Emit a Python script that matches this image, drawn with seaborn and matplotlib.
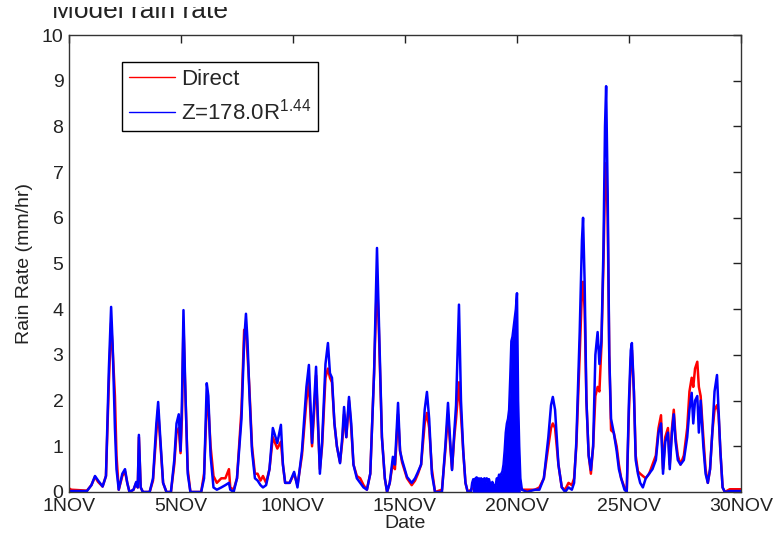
import matplotlib
matplotlib.use("Agg")
import numpy as np
import pandas as pd
import matplotlib.pyplot as plt
from matplotlib.patches import Rectangle
import seaborn as sns

# days since 1 Nov (axis runs 0..30)
day = [
    0.00, 0.10, 0.80, 1.00, 1.16, 1.30, 1.50, 1.65, 1.78, 1.88, 1.95, 2.05, 2.12, 2.22,
    2.38, 2.50, 2.60, 2.70, 2.88, 3.00, 3.07, 3.12, 3.20, 3.30, 3.60, 3.75, 3.90, 3.98,
    4.06, 4.20, 4.35, 4.55, 4.70, 4.80, 4.90, 4.98, 5.04, 5.11, 5.18, 5.30, 5.42, 5.90,
    6.03, 6.15, 6.22, 6.32, 6.45, 6.60, 6.80, 6.98, 7.14, 7.20, 7.35, 7.50, 7.70, 7.82,
    7.90, 7.97, 8.05, 8.17, 8.30, 8.42, 8.55, 8.66, 8.80, 8.95, 9.10, 9.30, 9.46, 9.55,
    9.65, 9.85, 10.05, 10.20, 10.40, 10.60, 10.71, 10.85, 10.95, 11.03, 11.12, 11.20,
    11.30, 11.45, 11.56, 11.65, 11.74, 11.85, 11.96, 12.10, 12.20, 12.28, 12.38, 12.50,
    12.60, 12.70, 12.85, 13.00, 13.15, 13.30, 13.45, 13.62, 13.75, 13.83, 13.97, 14.10,
    14.20, 14.32, 14.46, 14.55, 14.69, 14.78, 14.87, 15.09, 15.30, 15.45, 15.58, 15.72,
    15.88, 15.98, 16.08, 16.20, 16.34, 16.65, 16.80, 16.92, 17.02, 17.10, 17.20, 17.28,
    17.41, 17.50, 17.60, 17.70, 17.80, 17.95,
    # noisy stretch 18-20 Nov (upper envelope of the blue trace)
    18.00, 18.05, 18.10, 18.15, 18.20, 18.25, 18.30, 18.35, 18.40, 18.45, 18.50, 18.55,
    18.60, 18.65, 18.70, 18.75, 18.80, 18.85, 18.90, 18.95, 19.00, 19.05, 19.10, 19.15,
    19.20, 19.25, 19.30, 19.35, 19.40, 19.45, 19.50, 19.55, 19.60, 19.65, 19.70, 19.75,
    19.80, 19.85, 19.90, 19.95, 20.00, 20.05, 20.10, 20.15,
    20.22, 20.45, 20.80, 21.00, 21.20, 21.40, 21.52, 21.60, 21.70, 21.85, 22.00, 22.15,
    22.30, 22.45, 22.55, 22.65, 22.80, 22.90, 22.95, 23.02, 23.10, 23.20, 23.30, 23.40,
    23.50, 23.60, 23.68, 23.77, 23.86, 23.93, 23.98, 24.05, 24.12, 24.20, 24.32, 24.45,
    24.55, 24.65, 24.80, 24.90, 25.00, 25.08, 25.13, 25.22, 25.30, 25.40, 25.50, 25.62,
    25.75, 25.90, 26.05, 26.20, 26.32, 26.43, 26.52, 26.62, 26.74, 26.82, 26.92, 27.00,
    27.08, 27.18, 27.30, 27.45, 27.60, 27.70, 27.80, 27.87, 27.95, 28.05, 28.12, 28.20,
    28.32, 28.42, 28.52, 28.62, 28.72, 28.82, 28.93, 29.00, 29.08, 29.18, 29.28, 29.50,
    30.00,
]

direct = [
    0.08, 0.05, 0.03, 0.15, 0.33, 0.22, 0.12, 0.35, 2.40, 3.70, 3.10, 2.10, 0.80, 0.05,
    0.35, 0.45, 0.20, 0.00, 0.05, 0.20, 0.10, 1.20, 0.10, 0.00, 0.00, 0.25, 1.30, 1.80,
    1.20, 0.20, 0.00, 0.00, 0.60, 1.30, 1.40, 0.85, 1.60, 3.70, 2.40, 0.50, 0.00, 0.00,
    0.40, 1.90, 1.90, 1.00, 0.35, 0.20, 0.30, 0.30, 0.50, 0.10, 0.05, 0.30, 1.80, 3.55,
    3.50, 3.00, 2.30, 1.00, 0.40, 0.40, 0.25, 0.35, 0.20, 0.50, 1.20, 0.95, 1.10, 0.60,
    0.20, 0.20, 0.40, 0.15, 0.80, 2.00, 2.40, 1.00, 1.80, 2.55, 1.40, 0.50,
    1.00, 2.50, 2.70, 2.50, 2.40, 1.50, 1.00, 0.65, 1.10, 1.70, 1.20, 2.00,
    1.40, 0.60, 0.35, 0.30, 0.15, 0.05, 0.40, 2.60, 4.70, 3.60, 1.20, 0.30,
    0.00, 0.20, 0.65, 0.50, 1.70, 0.90, 0.65, 0.30, 0.15, 0.25, 0.40, 0.60,
    1.50, 1.73, 1.40, 0.50, 0.00, 0.05, 0.90, 1.70, 1.00, 0.50, 1.20, 1.60,
    2.40, 1.70, 0.90, 0.20, 0.00, 0.05,
    0.08, 0.08, 0.08, 0.08, 0.08, 0.08, 0.08, 0.08, 0.08, 0.08, 0.08, 0.08,
    0.08, 0.08, 0.08, 0.08, 0.08, 0.08, 0.08, 0.08, 0.08, 0.08, 0.08, 0.08,
    0.08, 0.08, 0.08, 0.08, 0.08, 0.08, 0.10, 0.10, 0.10, 0.10, 0.10, 0.10,
    0.10, 0.10, 0.10, 0.10, 0.10, 0.10, 0.10, 0.08,
    0.05, 0.05, 0.05, 0.10, 0.30, 1.00, 1.40, 1.50, 1.40, 0.60, 0.10, 0.05,
    0.20, 0.15, 0.30, 1.00, 3.00, 4.40, 4.60, 4.00, 2.00, 0.80, 0.40, 1.00,
    2.10, 2.30, 2.20, 3.20, 5.00, 6.80, 7.20, 6.00, 3.00, 1.35, 1.30, 1.00,
    0.60, 0.30, 0.10, 0.00, 1.80, 2.90, 3.10, 2.20, 0.80, 0.45, 0.40, 0.35,
    0.30, 0.40, 0.60, 0.80, 1.40, 1.68, 0.50, 1.20, 1.40, 0.60, 1.40, 1.80,
    1.20, 0.80, 0.60, 0.80, 1.40, 2.20, 2.50, 2.30, 2.70, 2.85, 2.30, 2.10,
    1.20, 0.50, 0.20, 0.50, 1.30, 1.80, 1.90, 1.70, 0.90, 0.10, 0.00, 0.06,
    0.06,
]

zr = [
    0.02, 0.02, 0.02, 0.15, 0.35, 0.25, 0.12, 0.35, 2.70, 4.05, 3.20, 1.40, 0.50, 0.05,
    0.40, 0.50, 0.20, 0.00, 0.05, 0.22, 0.10, 1.25, 0.10, 0.00, 0.00, 0.30, 1.50, 1.97,
    1.30, 0.20, 0.00, 0.00, 0.70, 1.50, 1.70, 0.90, 1.90, 3.98, 2.50, 0.40, 0.00, 0.00,
    0.30, 2.38, 2.10, 0.80, 0.10, 0.05, 0.10, 0.15, 0.20, 0.05, 0.00, 0.30, 1.60, 3.30,
    3.90, 3.30, 2.20, 0.90, 0.30, 0.25, 0.15, 0.10, 0.15, 0.50, 1.40, 1.07, 1.47, 0.60,
    0.20, 0.20, 0.44, 0.10, 0.90, 2.30, 2.78, 1.07, 2.00, 2.74, 1.50, 0.40,
    1.10, 2.80, 3.26, 2.60, 2.50, 1.50, 1.00, 0.63, 1.20, 1.86, 1.20, 2.08,
    1.50, 0.60, 0.30, 0.20, 0.10, 0.05, 0.40, 2.60, 5.34, 3.80, 1.20, 0.30,
    0.00, 0.20, 0.77, 0.60, 1.95, 0.90, 0.70, 0.33, 0.20, 0.30, 0.44, 0.60,
    1.80, 2.19, 1.60, 0.40, 0.00, 0.00, 1.00, 1.95, 1.10, 0.48, 1.30, 1.90,
    4.10, 2.00, 0.90, 0.20, 0.00, 0.02,
    0.20, 0.28, 0.15, 0.30, 0.32, 0.22, 0.30, 0.25, 0.30, 0.20, 0.28, 0.30,
    0.22, 0.30, 0.25, 0.28, 0.18, 0.15, 0.22, 0.15, 0.10, 0.15, 0.30, 0.25,
    0.38, 0.35, 0.40, 0.45, 0.60, 0.90, 1.30, 1.50, 1.60, 1.80, 2.50, 3.30,
    3.40, 3.60, 3.80, 4.00, 4.35, 2.00, 1.00, 0.30,
    0.05, 0.00, 0.05, 0.05, 0.30, 1.20, 1.90, 2.08, 1.80, 0.60, 0.10, 0.00,
    0.10, 0.05, 0.20, 1.10, 3.50, 5.50, 6.00, 4.60, 2.00, 0.80, 0.48, 1.00,
    3.00, 3.50, 2.80, 3.30, 5.30, 8.00, 8.88, 6.50, 3.00, 1.60, 1.30, 0.90,
    0.50, 0.30, 0.05, 0.00, 2.00, 3.10, 3.26, 2.20, 0.70, 0.40, 0.20, 0.10,
    0.30, 0.40, 0.50, 0.70, 1.30, 1.50, 0.40, 1.10, 1.30, 0.50, 1.30, 1.70,
    1.10, 0.70, 0.60, 0.70, 1.20, 1.80, 2.17, 1.50, 2.00, 2.10, 1.30, 2.00,
    1.00, 0.40, 0.20, 0.50, 1.30, 2.20, 2.56, 1.80, 0.90, 0.10, 0.00, 0.02,
    0.02,
]

# the blue trace oscillates so fast over 18-20 Nov that it reads as a solid block
noisy_start, noisy_end = 18.0, 20.15

series_names = ["Direct", "Z=178.0R$^{1.44}$"]
tick_days = [0, 5, 10, 15, 20, 25, 30]
tick_labels = ["1NOV", "5NOV", "10NOV", "15NOV", "20NOV", "25NOV", "30NOV"]

sns.set_style("white")
plt.rcParams["font.family"] = ["Liberation Sans", "DejaVu Sans"]
plt.rcParams["mathtext.fontset"] = "custom"
plt.rcParams["mathtext.rm"] = "Liberation Sans"
plt.rcParams["mathtext.default"] = "regular"

df = pd.DataFrame({"day": day, series_names[0]: direct, series_names[1]: zr})
long = df.melt(id_vars="day", var_name="series", value_name="rate")

fig = plt.figure(figsize=(7.78, 5.36), dpi=100)
ax = fig.add_axes([0.0887, 0.0821, 0.8637, 0.8526])

sns.lineplot(
    data=long, x="day", y="rate", hue="series", hue_order=series_names,
    palette=["#ff0000", "#0000ff"], estimator=None, sort=False,
    linewidth=1.8, ax=ax
)

noisy = df[(df["day"] >= noisy_start) & (df["day"] <= noisy_end)]
ax.fill_between(noisy["day"], 0, noisy[series_names[1]], color="#0000ff",
                linewidth=0, zorder=3)

ax.set_xlim(0, 30)
ax.set_ylim(0, 10)
ax.set_xticks(tick_days)
ax.set_xticklabels(tick_labels)
ax.set_yticks(range(0, 11))
ax.tick_params(direction="in", top=True, right=True, length=6, width=1,
               labelsize=14, colors="#222222")
ax.tick_params(axis="x", pad=4.5)
ax.tick_params(axis="y", pad=4)
for s in ax.spines.values():
    s.set_color("#333333")
    s.set_linewidth(1.0)

ax.set_xlabel("Date", fontsize=14, color="#222222", labelpad=-0.5)
ax.set_ylabel("Rain Rate (mm/hr)", fontsize=14, color="#222222", labelpad=6)

handles, labels = ax.get_legend_handles_labels()
for h in handles:
    h.set_linewidth(1.0)
leg = ax.legend(handles, labels, loc="upper left", bbox_to_anchor=(0.079, 0.941),
                borderaxespad=0, frameon=True, fancybox=False, edgecolor="black",
                framealpha=1, fontsize=16, handlelength=2.1, borderpad=0.3,
                labelspacing=0.4, handletextpad=0.25)
leg.get_frame().set_linewidth(1.0)

# title is cut off at the top edge of the reference image
fig.text(52 / 778, 1 - 18 / 536, "Model rain rate", fontsize=19,
         color="#222222", va="baseline", ha="left")
fig.patches.append(Rectangle((0, 1 - 7 / 536), 1, 7 / 536, transform=fig.transFigure,
                             facecolor="white", edgecolor="none", zorder=10))

fig.savefig("out.png", dpi=100)
plt.close(fig)
